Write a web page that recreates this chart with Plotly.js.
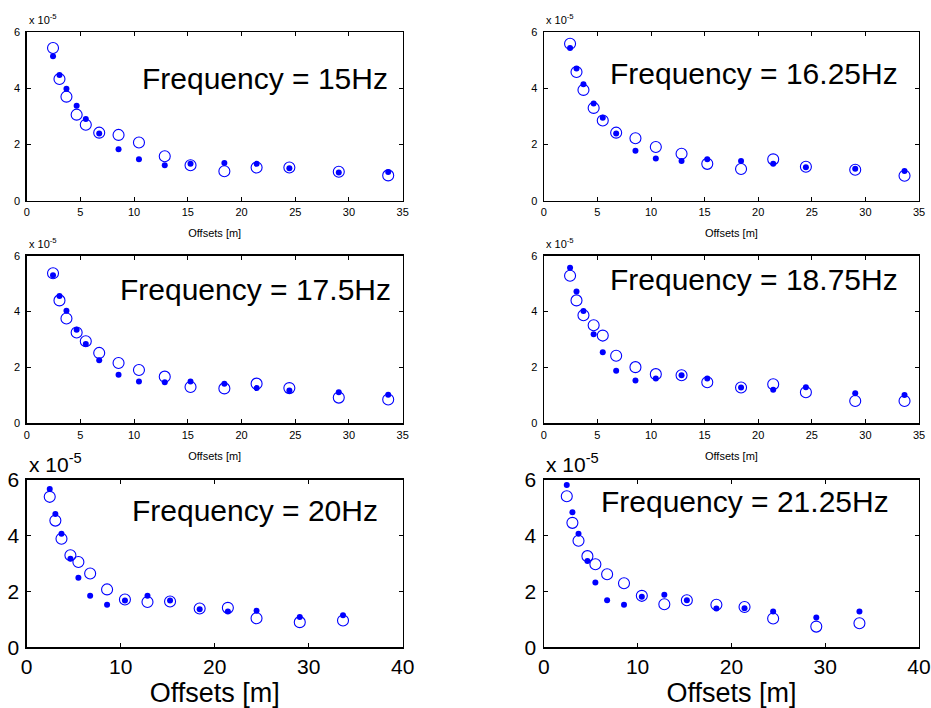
<!DOCTYPE html>
<html>
<head>
<meta charset="utf-8">
<script src="https://cdn.plot.ly/plotly-3.0.1.min.js"></script>
<style>
  html, body { margin: 0; padding: 0; background: #fff; }
  #chart { width: 931px; height: 708px; }
</style>
</head>
<body>
<div id="chart"></div>
<script>
// ---- data (amplitudes in units of 1e-5) ----
var offsets = [2.45, 3.05, 3.7, 4.65, 5.5, 6.75, 8.55, 10.45, 12.85, 15.25, 18.4, 21.4, 24.45, 29.05, 33.65];

var frequencies = ['15', '16.25', '17.5', '18.75', '20', '21.25'];

// open circles
var open15    = [5.43, 4.33, 3.70, 3.06, 2.70, 2.42, 2.34, 2.07, 1.58, 1.26, 1.05, 1.18, 1.18, 1.03, 0.90];
var open16_25 = [5.58, 4.58, 3.94, 3.30, 2.85, 2.42, 2.22, 1.91, 1.67, 1.31, 1.13, 1.47, 1.21, 1.10, 0.89];
var open17_5  = [5.37, 4.40, 3.75, 3.25, 2.94, 2.52, 2.16, 1.91, 1.67, 1.30, 1.25, 1.42, 1.26, 0.92, 0.85];
var open18_75 = [5.28, 4.40, 3.87, 3.51, 3.14, 2.42, 2.01, 1.76, 1.72, 1.47, 1.28, 1.40, 1.11, 0.80, 0.80];
var open20    = [5.38, 4.53, 3.88, 3.29, 3.05, 2.64, 2.07, 1.71, 1.62, 1.64, 1.39, 1.41, 1.04, 0.90, 0.96];
var open21_25 = [5.40, 4.45, 3.81, 3.26, 2.97, 2.61, 2.29, 1.84, 1.54, 1.68, 1.52, 1.44, 1.03, 0.74, 0.86];

// filled dots
var dot15    = [5.14, 4.47, 3.98, 3.38, 2.91, 2.39, 1.83, 1.47, 1.26, 1.31, 1.34, 1.31, 1.15, 1.00, 1.02];
var dot16_25 = [5.43, 4.70, 4.14, 3.46, 2.95, 2.39, 1.78, 1.50, 1.41, 1.47, 1.41, 1.31, 1.19, 1.14, 1.06];
var dot17_5  = [5.30, 4.56, 4.03, 3.35, 2.84, 2.26, 1.74, 1.50, 1.47, 1.50, 1.42, 1.26, 1.17, 1.11, 1.02];
var dot18_75 = [5.57, 4.72, 4.02, 3.19, 2.54, 1.88, 1.53, 1.60, 1.72, 1.60, 1.28, 1.20, 1.29, 1.08, 1.01];
var dot20    = [5.66, 4.77, 4.06, 3.17, 2.49, 1.84, 1.52, 1.67, 1.84, 1.67, 1.36, 1.28, 1.31, 1.08, 1.15];
var dot21_25 = [5.80, 4.83, 4.06, 3.09, 2.32, 1.68, 1.52, 1.81, 1.88, 1.68, 1.39, 1.40, 1.28, 1.07, 1.28];

var yTicks = [0, 2, 4, 6];
var xTicksTop = [0, 5, 10, 15, 20, 25, 30, 35];
var xTicksBottom = [0, 10, 20, 30, 40];

var openSeries = [open15, open16_25, open17_5, open18_75, open20, open21_25];
var dotSeries  = [dot15, dot16_25, dot17_5, dot18_75, dot20, dot21_25];

// ---- layout/style ----
var W = 931, H = 708;
var FONT = 'Liberation Sans, Arial, Helvetica, sans-serif';
var BLUE = '#0000ff';
// pixel boxes [left, right, top, bottom]
var boxes = [
  [26.7, 402.7, 32, 200.7],
  [543.8, 919, 32, 200.7],
  [26.7, 402.7, 255.7, 423.3],
  [543.8, 919, 255.7, 423.3],
  [26.7, 402.7, 479.5, 647.3],
  [543.8, 919, 479.5, 647.3]
];
// frequency label anchor (data coords, left/middle)
var labelPos = [[10.5, 4.36], [5.95, 4.52], [8.5, 4.79], [5.95, 5.14], [11.0, 4.88], [5.85, 5.22]];

var traces = [];
var layout = {
  width: W, height: H,
  margin: {l: 0, r: 0, t: 0, b: 0},
  paper_bgcolor: '#fff', plot_bgcolor: '#fff',
  showlegend: false,
  font: {family: FONT, color: '#000'},
  annotations: []
};

for (var i = 0; i < 6; i++) {
  var n = i + 1;
  var xa = 'x' + (n === 1 ? '' : n), ya = 'y' + (n === 1 ? '' : n);
  var xk = 'xaxis' + (n === 1 ? '' : n), yk = 'yaxis' + (n === 1 ? '' : n);
  var big = i >= 4;
  var b = boxes[i];

  traces.push({
    x: offsets, y: openSeries[i], xaxis: xa, yaxis: ya,
    type: 'scatter', mode: 'markers', name: 'open ' + frequencies[i] + ' Hz',
    marker: {symbol: 'circle-open', size: 11, color: BLUE, line: {width: 1.1, color: BLUE}},
    cliponaxis: false
  });
  traces.push({
    x: offsets, y: dotSeries[i], xaxis: xa, yaxis: ya,
    type: 'scatter', mode: 'markers', name: 'dots ' + frequencies[i] + ' Hz',
    marker: {symbol: 'circle', size: 6, color: BLUE},
    cliponaxis: false
  });

  var tickFont = {family: FONT, size: big ? 21 : 11, color: '#000'};
  layout[xk] = {
    domain: [b[0] / W, b[1] / W],
    anchor: ya,
    range: big ? [0, 40] : [0, 35],
    tickvals: big ? xTicksBottom : xTicksTop,
    ticktext: (big ? xTicksBottom : xTicksTop).map(String),
    ticks: 'inside', ticklen: 4, tickwidth: 1, tickcolor: '#000',
    showline: true, linecolor: '#000', linewidth: 1.3, mirror: 'allticks',
    showgrid: false, zeroline: false,
    tickfont: tickFont,
    ticklabelstandoff: big ? 0 : 1,
    title: {text: 'Offsets [m]', font: {family: FONT, size: big ? 27 : 11, color: '#000'}, standoff: big ? 3 : 12},
    fixedrange: true
  };
  layout[yk] = {
    domain: [1 - b[3] / H, 1 - b[2] / H],
    anchor: xa,
    range: [0, 6],
    tickvals: yTicks,
    ticktext: yTicks.map(String),
    ticks: 'inside', ticklen: 4, tickwidth: 1, tickcolor: '#000',
    showline: true, linecolor: '#000', linewidth: 1.3, mirror: 'allticks',
    showgrid: false, zeroline: false,
    tickfont: tickFont,
    ticklabelstandoff: big ? 2 : 3,
    fixedrange: true
  };

  layout.annotations.push({
    xref: xa, yref: ya, x: labelPos[i][0], y: labelPos[i][1],
    xanchor: 'left', yanchor: 'middle', showarrow: false,
    text: 'Frequency = ' + frequencies[i] + 'Hz',
    font: {family: FONT, size: 30, color: '#000'}
  });
  layout.annotations.push({
    xref: 'paper', yref: 'paper',
    x: (b[0] + 0.5) / W, y: 1 - (b[2] - (big ? 2 : 4)) / H,
    xanchor: 'left', yanchor: 'bottom', showarrow: false,
    text: 'x 10<sup>-5</sup>',
    font: {family: FONT, size: big ? 21 : 11, color: '#000'}
  });
}

Plotly.newPlot('chart', traces, layout, {displayModeBar: false, staticPlot: true});
</script>
</body>
</html>
